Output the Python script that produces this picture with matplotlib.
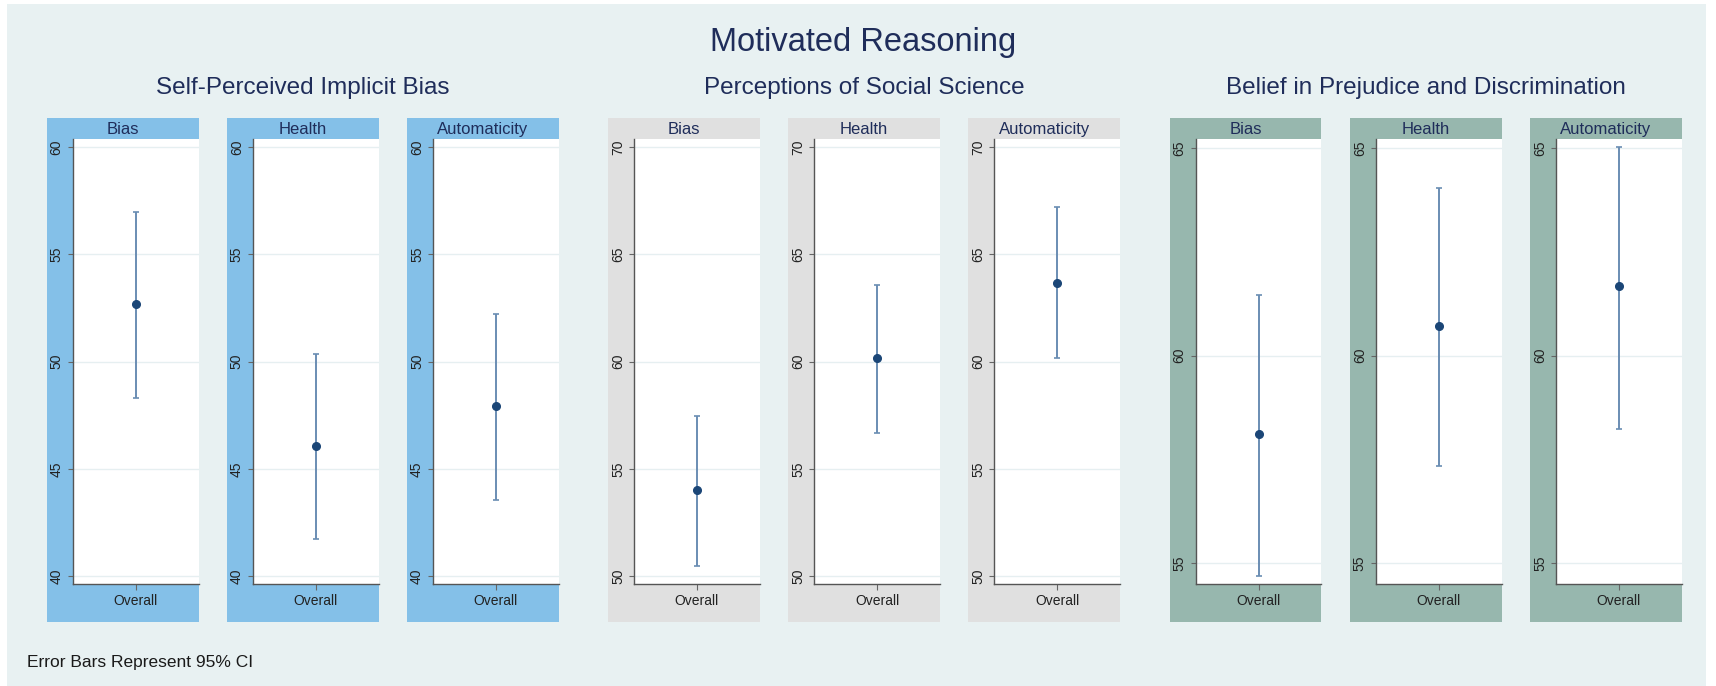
import numpy as np
import matplotlib
matplotlib.use("Agg")
import matplotlib.pyplot as plt
from matplotlib.patches import Rectangle

plt.rcParams['font.family'] = ['Liberation Sans', 'DejaVu Sans']

# means and 95% CI bounds per outcome, one set per construct
groups = ["Self-Perceived Implicit Bias", "Perceptions of Social Science",
          "Belief in Prejudice and Discrimination"]
outcomes = ["Bias", "Health", "Automaticity"]
category = ["Overall"]

implicit_mean = [52.68, 46.06, 47.94]
implicit_lo = [48.30, 41.73, 43.56]
implicit_hi = [56.95, 50.33, 52.20]

social_mean = [54.00, 60.16, 63.68]
social_lo = [50.48, 56.65, 60.16]
social_hi = [57.46, 63.58, 67.20]

prejudice_mean = [58.10, 60.72, 61.67]
prejudice_lo = [54.69, 57.34, 58.24]
prejudice_hi = [61.46, 64.05, 65.03]

yticks = [[40, 45, 50, 55, 60], [50, 55, 60, 65, 70], [55, 60, 65]]
ylims = [(39.63, 60.40), (49.63, 70.40), (54.49, 65.24)]

means = [implicit_mean, social_mean, prejudice_mean]
lows = [implicit_lo, social_lo, prejudice_lo]
highs = [implicit_hi, social_hi, prejudice_hi]

strip_colors = ["#84c0e8", "#e0e0e0", "#97b7ae"]
bg_color = "#e8f1f2"
navy = "#1f2d5a"
bar_color = "#6a8db3"
dot_color = "#1b4677"

W, H = 1716, 686
fig = plt.figure(figsize=(W / 100, H / 100), dpi=100, facecolor="white")


def fx(x):
    return x / W


def fy(y):
    return 1 - y / H


# light background panel
fig.patches.append(Rectangle((fx(7), fy(686)), fx(1706 - 7), (686 - 4) / H,
                             transform=fig.transFigure, facecolor=bg_color,
                             edgecolor="none", zorder=-2))

fig.text(fx(863), fy(42), "Motivated Reasoning", ha="center", va="center",
         fontsize=23.5, color=navy)

group_left = [46.7, 608.0, 1169.6]
panel_step = 180.2
panel_w = 151.8
axis_off = 26.0
panel_top, strip_bot, plot_bot, panel_bot = 117.5, 138.5, 584.0, 622.0

for g, name in enumerate(groups):
    gl = group_left[g]
    center = gl + (2 * panel_step + panel_w) / 2
    fig.text(fx(center), fy(88), name, ha="center", va="center",
             fontsize=17.5, color=navy)
    for p, outcome in enumerate(outcomes):
        left = gl + p * panel_step
        # coloured panel frame and strip
        fig.patches.append(Rectangle((fx(left), fy(panel_bot)), fx(panel_w),
                                     (panel_bot - panel_top) / H,
                                     transform=fig.transFigure,
                                     facecolor=strip_colors[g], edgecolor="none",
                                     zorder=-1))
        fig.text(fx(left + panel_w / 2), fy(134), outcome,
                 ha="center", va="baseline", fontsize=12, color=navy)

        ax = fig.add_axes([fx(left + axis_off), fy(plot_bot),
                           fx(panel_w - axis_off), (plot_bot - strip_bot) / H])
        ax.set_facecolor("white")
        m = means[g][p]
        lo = lows[g][p]
        hi = highs[g][p]
        ax.errorbar([0], [m], yerr=[[m - lo], [hi - m]], fmt="o",
                    color=dot_color, ecolor=bar_color, elinewidth=1.4,
                    capsize=2.5, capthick=1.2, markersize=5.5, zorder=3)
        ax.set_xlim(-1, 1)
        ax.set_ylim(*ylims[g])
        ax.set_xticks([0])
        ax.set_xticklabels(category)
        ax.set_yticks(yticks[g])
        ax.grid(axis="y", color="#e6eff1", linewidth=1.0)
        ax.set_axisbelow(True)
        for side in ["top", "right"]:
            ax.spines[side].set_visible(False)
        for side in ["left", "bottom"]:
            ax.spines[side].set_color("#555555")
            ax.spines[side].set_linewidth(1.0)
        ax.tick_params(axis="y", length=3.5, width=0.8, color="#666666",
                       labelsize=10, labelcolor="#222222", pad=3,
                       labelrotation=90)
        ax.tick_params(axis="x", length=4, width=0.8, color="#666666",
                       labelsize=10, labelcolor="#222222", pad=3)
        for lab in ax.get_yticklabels():
            lab.set_va("center")

fig.text(fx(26.7), fy(663), "Error Bars Represent 95% CI", ha="left",
         va="center", fontsize=12.5, color="#1a1a1a")

fig.savefig("out.png", dpi=100, facecolor=fig.get_facecolor())
